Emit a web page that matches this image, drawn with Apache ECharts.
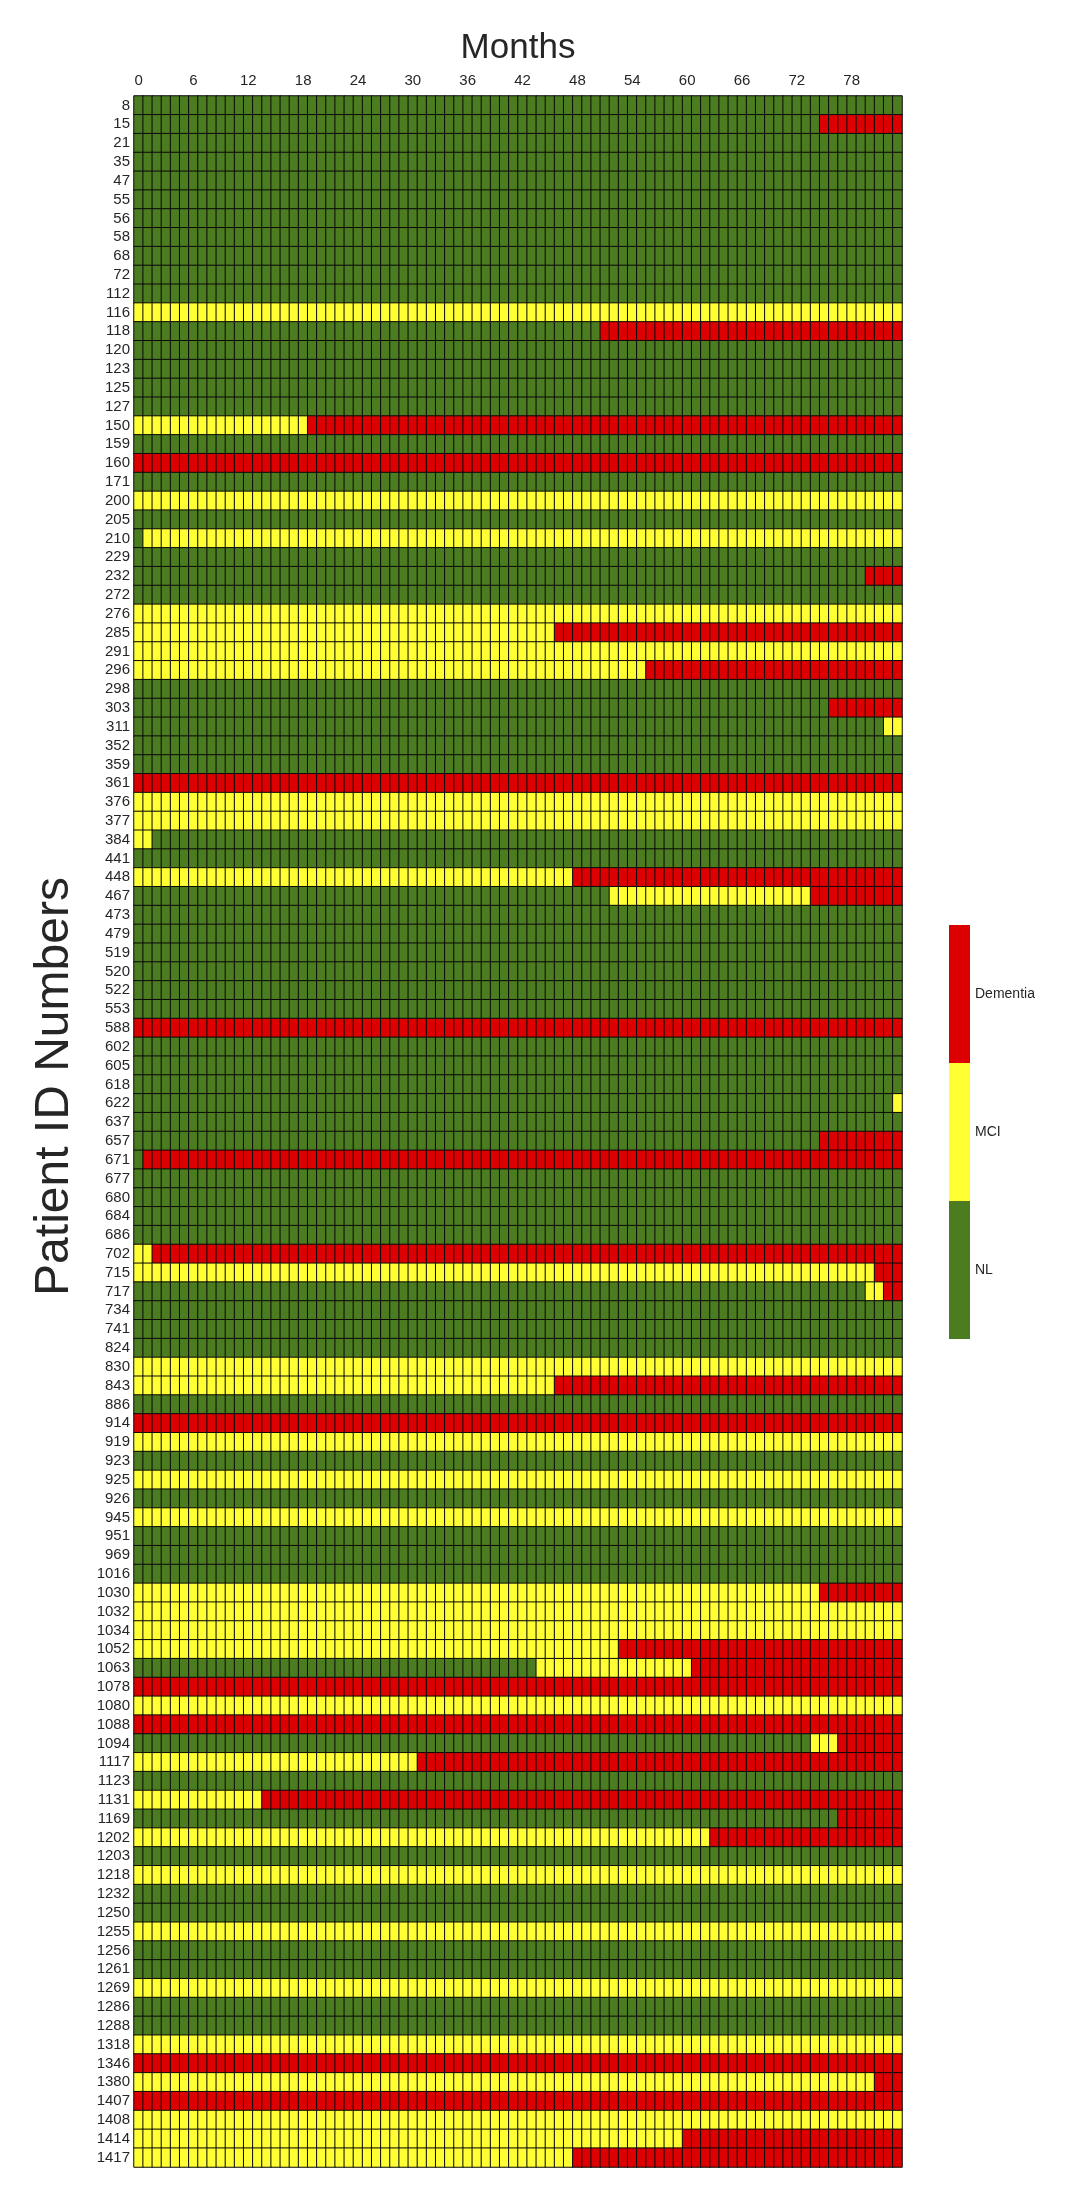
<!DOCTYPE html>
<html><head><meta charset="utf-8">
<script src="https://cdn.jsdelivr.net/npm/echarts@6/dist/echarts.min.js"></script>
<style>html,body{margin:0;padding:0;background:#fff}#c{width:1082px;height:2192px}</style>
</head><body><div id="c"></div>
<script>
const patientIds = ['8','15','21','35','47','55','56','58','68','72','112','116','118','120','123','125','127','150','159','160','171','200','205','210','229','232','272','276','285','291','296','298','303','311','352','359','361','376','377','384','441','448','467','473','479','519','520','522','553','588','602','605','618','622','637','657','671','677','680','684','686','702','715','717','734','741','824','830','843','886','914','919','923','925','926','945','951','969','1016','1030','1032','1034','1052','1063','1078','1080','1088','1094','1117','1123','1131','1169','1202','1203','1218','1232','1250','1255','1256','1261','1269','1286','1288','1318','1346','1380','1407','1408','1414','1417'];

const months = ['0','1','2','3','4','5','6','7','8','9','10','11','12','13','14','15','16','17','18','19','20','21','22','23','24','25','26','27','28','29','30','31','32','33','34','35','36','37','38','39','40','41','42','43','44','45','46','47','48','49','50','51','52','53','54','55','56','57','58','59','60','61','62','63','64','65','66','67','68','69','70','71','72','73','74','75','76','77','78','79','80','81','82','83'];

const stateNames = ['NL', 'MCI', 'Dementia'];
const stateColors = ['#4b7d20', '#ffff33', '#dc0000'];

// per patient: [startMonth, state] (0 = NL, 1 = MCI, 2 = Dementia)
const statusChanges = [
 [[0,0]], //8
 [[0,0],[75,2]], //15
 [[0,0]], //21
 [[0,0]], //35
 [[0,0]], //47
 [[0,0]], //55
 [[0,0]], //56
 [[0,0]], //58
 [[0,0]], //68
 [[0,0]], //72
 [[0,0]], //112
 [[0,1]], //116
 [[0,0],[51,2]], //118
 [[0,0]], //120
 [[0,0]], //123
 [[0,0]], //125
 [[0,0]], //127
 [[0,1],[19,2]], //150
 [[0,0]], //159
 [[0,2]], //160
 [[0,0]], //171
 [[0,1]], //200
 [[0,0]], //205
 [[0,0],[1,1]], //210
 [[0,0]], //229
 [[0,0],[80,2]], //232
 [[0,0]], //272
 [[0,1]], //276
 [[0,1],[46,2]], //285
 [[0,1]], //291
 [[0,1],[56,2]], //296
 [[0,0]], //298
 [[0,0],[76,2]], //303
 [[0,0],[82,1]], //311
 [[0,0]], //352
 [[0,0]], //359
 [[0,2]], //361
 [[0,1]], //376
 [[0,1]], //377
 [[0,1],[2,0]], //384
 [[0,0]], //441
 [[0,1],[48,2]], //448
 [[0,0],[52,1],[74,2]], //467
 [[0,0]], //473
 [[0,0]], //479
 [[0,0]], //519
 [[0,0]], //520
 [[0,0]], //522
 [[0,0]], //553
 [[0,2]], //588
 [[0,0]], //602
 [[0,0]], //605
 [[0,0]], //618
 [[0,0],[83,1]], //622
 [[0,0]], //637
 [[0,0],[75,2]], //657
 [[0,0],[1,2]], //671
 [[0,0]], //677
 [[0,0]], //680
 [[0,0]], //684
 [[0,0]], //686
 [[0,1],[2,2]], //702
 [[0,1],[81,2]], //715
 [[0,0],[80,1],[82,2]], //717
 [[0,0]], //734
 [[0,0]], //741
 [[0,0]], //824
 [[0,1]], //830
 [[0,1],[46,2]], //843
 [[0,0]], //886
 [[0,2]], //914
 [[0,1]], //919
 [[0,0]], //923
 [[0,1]], //925
 [[0,0]], //926
 [[0,1]], //945
 [[0,0]], //951
 [[0,0]], //969
 [[0,0]], //1016
 [[0,1],[75,2]], //1030
 [[0,1]], //1032
 [[0,1]], //1034
 [[0,1],[53,2]], //1052
 [[0,0],[44,1],[61,2]], //1063
 [[0,2]], //1078
 [[0,1]], //1080
 [[0,2]], //1088
 [[0,0],[74,1],[77,2]], //1094
 [[0,1],[31,2]], //1117
 [[0,0]], //1123
 [[0,1],[14,2]], //1131
 [[0,0],[77,2]], //1169
 [[0,1],[63,2]], //1202
 [[0,0]], //1203
 [[0,1]], //1218
 [[0,0]], //1232
 [[0,0]], //1250
 [[0,1]], //1255
 [[0,0]], //1256
 [[0,0]], //1261
 [[0,1]], //1269
 [[0,0]], //1286
 [[0,0]], //1288
 [[0,1]], //1318
 [[0,2]], //1346
 [[0,1],[81,2]], //1380
 [[0,2]], //1407
 [[0,1]], //1408
 [[0,1],[60,2]], //1414
 [[0,1],[48,2]]  //1417
];

const cells = [];
patientIds.forEach(function (pid, row) {
  const changes = statusChanges[row];
  months.forEach(function (m, col) {
    let st = changes[0][1];
    for (let k = 0; k < changes.length; k++) {
      if (changes[k][0] <= col) st = changes[k][1];
    }
    cells.push([col, row, st]);
  });
});

const FONT = '"Liberation Sans", Arial, sans-serif';
const TXT = '#262626';
const chart = echarts.init(document.getElementById('c'), null, {renderer: 'canvas'});
chart.setOption({
  animation: false,
  backgroundColor: '#ffffff',
  textStyle: {fontFamily: FONT},
  grid: {left: 134, right: 180, top: 96, bottom: 25},
  xAxis: {
    type: 'category', position: 'top', data: months,
    axisLine: {show: false}, axisTick: {show: false}, splitLine: {show: false},
    axisLabel: {interval: 5, fontSize: 15, color: TXT, margin: 8, fontFamily: FONT},
    name: 'Months', nameLocation: 'middle', nameGap: 30,
    nameTextStyle: {fontSize: 35, color: TXT, fontFamily: FONT}
  },
  yAxis: {
    type: 'category', data: patientIds, inverse: true,
    axisLine: {show: false}, axisTick: {show: false}, splitLine: {show: false},
    axisLabel: {interval: 0, fontSize: 15, color: TXT, margin: 4, fontFamily: FONT},
    name: 'Patient ID Numbers', nameLocation: 'middle', nameGap: 55, nameRotate: 90,
    nameTextStyle: {fontSize: 48, color: TXT, fontFamily: FONT, padding: [0, 0, 0, 90]}
  },
  visualMap: {
    type: 'piecewise', dimension: 2, orient: 'vertical', align: 'left',
    left: 949, top: 925, padding: 0,
    itemWidth: 21, itemHeight: 138, itemGap: 0, itemSymbol: 'rect',
    textGap: 5, selectedMode: false, hoverLink: false,
    textStyle: {fontSize: 14, color: TXT, fontFamily: FONT},
    pieces: [
      {value: 0, label: stateNames[0], color: stateColors[0]},
      {value: 1, label: stateNames[1], color: stateColors[1]},
      {value: 2, label: stateNames[2], color: stateColors[2]}
    ]
  },
  series: [{
    type: 'heatmap', data: cells, progressive: 0,
    itemStyle: {borderColor: '#0a0a0a', borderWidth: 1},
    emphasis: {disabled: true}
  }]
});
</script></body></html>
